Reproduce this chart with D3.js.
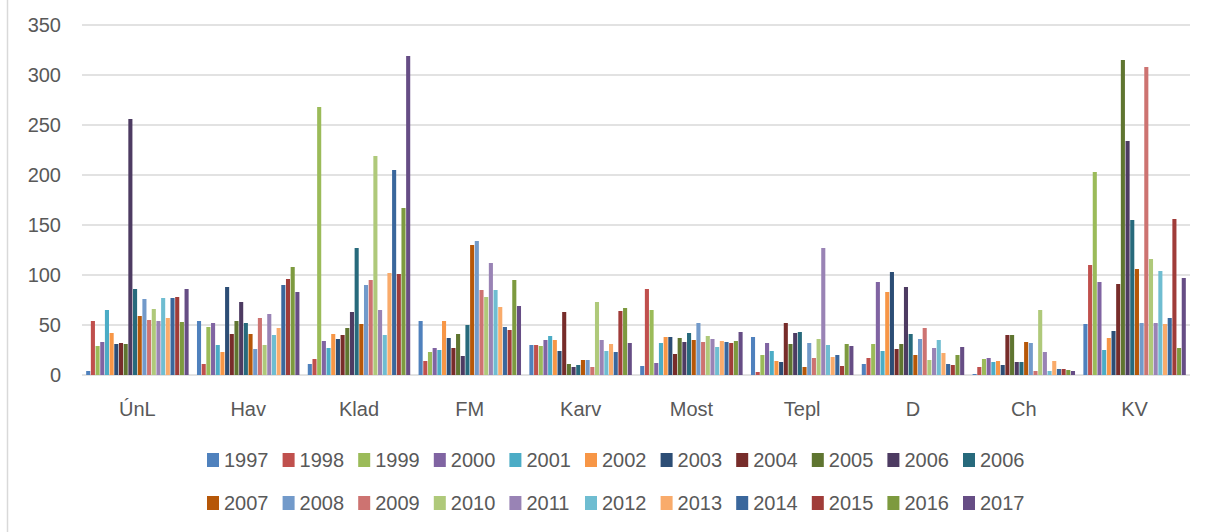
<!DOCTYPE html>
<html><head><meta charset="utf-8">
<script src="https://cdn.jsdelivr.net/npm/d3@7"></script>
<style>body{margin:0;background:#fff}svg{display:block}text{font-family:"Liberation Sans",Arial,sans-serif;fill:#595959}</style>
</head><body><svg id="c" width="1205" height="532"></svg>
<script>
const categories = ["ÚnL","Hav","Klad","FM","Karv","Most","Tepl","D","Ch","KV"];
const seriesNames = ["1997","1998","1999","2000","2001","2002","2003","2004","2005","2006","2006","2007","2008","2009","2010","2011","2012","2013","2014","2015","2016","2017"];
const colors = ["#4F81BD","#C0504D","#9BBB59","#8064A2","#4BACC6","#F79646","#2C4D75","#772C2A","#5F7530","#4D3B62","#276A7C","#B65708","#729ACA","#CD7371","#AFC97A","#9983B5","#6FBDD1","#F9AB6B","#3A679C","#A03C39","#7D9A3F","#664D85"];
// values per category (in series order)
const vUnL = [4,54,29,33,65,42,31,32,31,256,86,59,76,55,66,54,77,57,77,78,53,86];
const vHav = [54,11,48,52,30,23,88,41,54,73,52,41,26,57,30,61,40,47,90,96,108,83];
const vKlad = [11,16,268,34,27,41,36,40,47,63,127,51,90,95,219,65,40,102,205,101,167,319];
const vFM = [54,14,23,27,25,54,37,27,41,19,50,130,134,85,78,112,85,68,48,45,95,69];
const vKarv = [30,30,29,35,39,35,24,63,11,8,10,15,15,8,73,35,24,31,23,64,67,32];
const vMost = [9,86,65,12,32,38,38,21,37,33,42,35,52,33,39,36,28,34,33,32,34,43];
const vTepl = [38,3,20,32,24,14,13,52,31,42,43,8,32,17,36,127,30,18,20,9,31,29];
const vD = [11,17,31,93,24,83,103,26,31,88,41,20,36,47,15,27,35,22,11,10,20,28];
const vCh = [1,8,16,17,13,14,10,40,40,13,13,33,32,4,65,23,4,14,6,6,5,4];
const vKV = [51,110,203,93,25,37,44,91,315,234,155,106,52,308,116,52,104,51,57,156,27,97];
const values = [vUnL,vHav,vKlad,vFM,vKarv,vMost,vTepl,vD,vCh,vKV];
const yTicks = [0,50,100,150,200,250,300,350];

const svg = d3.select("#c");
const L = 82, R = 1190, T = 25, B = 375;
svg.append("line").attr("x1",7.5).attr("x2",7.5).attr("y1",0).attr("y2",532).attr("stroke","#d9d9d9").attr("stroke-width",1.5);

const y = d3.scaleLinear().domain([0,350]).range([B,T]);
const x = d3.scaleBand().domain(categories).range([L,R]).paddingInner(0.07).paddingOuter(0.035);
const xi = d3.scaleBand().domain(d3.range(seriesNames.length)).range([0,x.bandwidth()]);

svg.append("g").selectAll("line").data(yTicks).join("line")
  .attr("x1",L).attr("x2",R).attr("y1",d=>y(d)).attr("y2",d=>y(d))
  .attr("stroke","#d9d9d9").attr("stroke-width",1.5);

const yAxis = d3.axisLeft(y).tickValues(yTicks).tickSize(0).tickPadding(0);
const ya = svg.append("g").attr("transform",`translate(61,0)`).call(yAxis);
ya.select(".domain").remove();
ya.selectAll("text").attr("font-size",20).attr("fill","#595959").attr("font-family","Liberation Sans, Arial, sans-serif");

const groups = svg.append("g").selectAll("g").data(categories).join("g")
  .attr("transform",d=>`translate(${x(d)},0)`);
groups.selectAll("rect").data((d,i)=>values[i].map((v,j)=>({v,j}))).join("rect")
  .attr("x",d=>xi(d.j)+0.3).attr("width",xi.bandwidth()-0.6)
  .attr("y",d=>y(d.v)).attr("height",d=>B-y(d.v))
  .attr("fill",d=>colors[d.j]);

const xAxis = d3.axisBottom(x).tickSize(0).tickPadding(0);
const xa = svg.append("g").attr("transform",`translate(0,${B})`).call(xAxis);
xa.select(".domain").remove();
xa.selectAll("text").attr("y",34).attr("dy","0.35em").attr("font-size",20).attr("fill","#595959").attr("font-family","Liberation Sans, Arial, sans-serif");

const lg = svg.append("g");
const perRow = 11, lx0 = 207, step = 75.6, rows = [460,503];
seriesNames.forEach((n,i)=>{
  const r = Math.floor(i/perRow), c = i%perRow;
  const gx = lx0 + c*step, gy = rows[r];
  lg.append("rect").attr("x",gx).attr("y",gy-7).attr("width",12).attr("height",14).attr("fill",colors[i]);
  lg.append("text").attr("x",gx+17).attr("y",gy).attr("dy","0.35em").attr("font-size",20).text(n);
});
</script></body></html>
